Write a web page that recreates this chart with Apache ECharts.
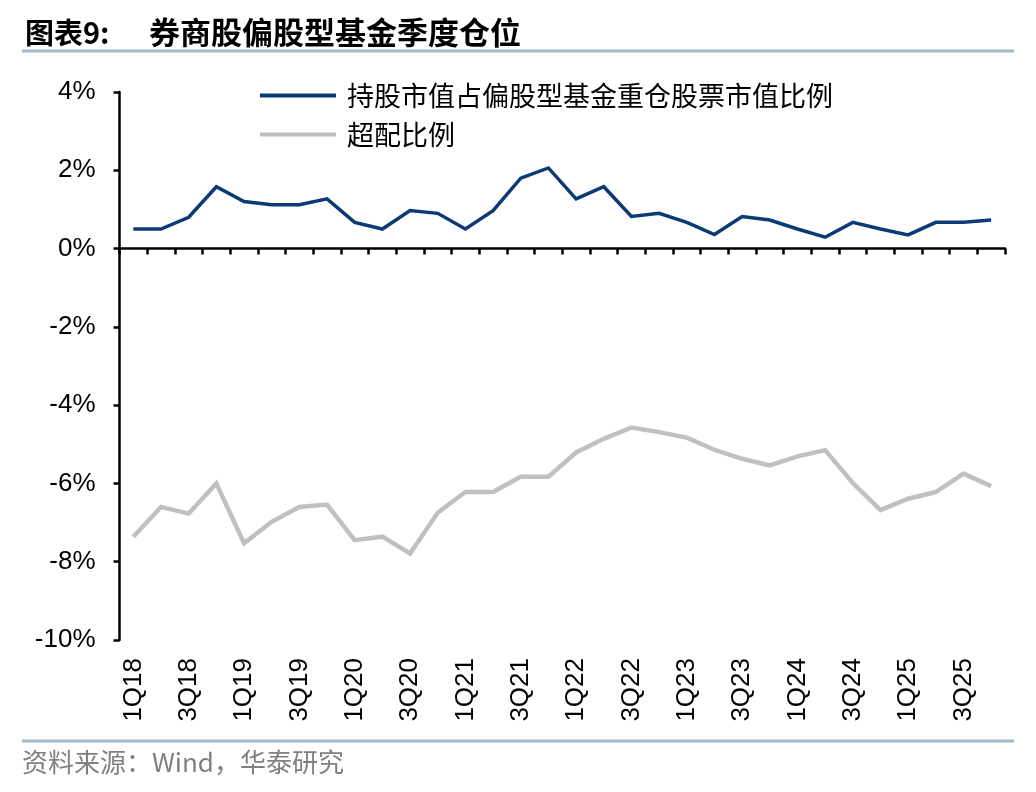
<!DOCTYPE html>
<html><head><meta charset="utf-8">
<script src="https://cdn.jsdelivr.net/npm/echarts@6/dist/echarts.min.js"></script>
<style>html,body{margin:0;padding:0;background:#fff}#c{width:1036px;height:792px}</style>
</head><body><div id="c"></div>
<script>
var categories = ['1Q18','2Q18','3Q18','4Q18','1Q19','2Q19','3Q19','4Q19','1Q20','2Q20','3Q20','4Q20','1Q21','2Q21','3Q21','4Q21','1Q22','2Q22','3Q22','4Q22','1Q23','2Q23','3Q23','4Q23','1Q24','2Q24','3Q24','4Q24','1Q25','2Q25','3Q25','4Q25'];
var holdRatio = [0.50,0.50,0.80,1.58,1.20,1.12,1.12,1.27,0.67,0.50,0.97,0.90,0.50,0.97,1.80,2.06,1.27,1.58,0.82,0.90,0.67,0.36,0.82,0.73,0.50,0.29,0.67,0.50,0.35,0.67,0.67,0.73];
var overRatio = [-7.36,-6.60,-6.77,-6.00,-7.53,-6.98,-6.60,-6.54,-7.45,-7.36,-7.79,-6.75,-6.22,-6.22,-5.83,-5.83,-5.21,-4.86,-4.57,-4.69,-4.83,-5.14,-5.37,-5.54,-5.31,-5.15,-5.99,-6.68,-6.39,-6.22,-5.75,-6.07];
var seriesNames = ['持股市值占偏股型基金重仓股票市值比例','超配比例'];
var titleLabel = '图表9:';
var titleText = '券商股偏股型基金季度仓位';
var sourceText = '资料来源：Wind，华泰研究';

var chart = echarts.init(document.getElementById('c'), null, {renderer:'canvas'});
var cjk = '"Noto Sans CJK SC", "Noto Sans", sans-serif';
var latin = '"Liberation Sans", Arial, sans-serif';
chart.setOption({
  animation:false,
  backgroundColor:'#fff',
  title:[
    {text:titleLabel,left:20,top:13,textStyle:{fontFamily:cjk,fontSize:29,fontWeight:'bold',color:'#000'}},
    {text:titleText,left:144,top:12,textStyle:{fontFamily:cjk,fontSize:31,fontWeight:'bold',color:'#000'}}
  ],
  graphic:[
    {type:'line',shape:{x1:22,y1:51,x2:1014,y2:51},style:{stroke:'#a7b9cd',lineWidth:3}},
    {type:'line',shape:{x1:22,y1:741,x2:1014,y2:741},style:{stroke:'#a7b9cd',lineWidth:3}},
    {type:'text',left:22,top:749,style:{text:sourceText,fontFamily:cjk,fontSize:26,fill:'#808080'}}
  ],
  legend:{orient:'vertical',left:255,top:77,itemWidth:76,itemHeight:4,itemGap:12,icon:'rect',
    textStyle:{fontFamily:cjk,fontSize:27,color:'#000',padding:[0,0,0,6]},data:seriesNames},
  grid:{left:119.5,right:31,top:92,bottom:152,containLabel:false},
  xAxis:[
    {type:'category',data:categories,boundaryGap:true,
      axisLine:{onZero:true,lineStyle:{color:'#000',width:2.5}},
      axisTick:{show:true,alignWithLabel:false,interval:0,length:6,lineStyle:{color:'#000',width:2.5}},
      axisLabel:{show:false}},
    {type:'category',data:categories,boundaryGap:true,position:'bottom',
      axisLine:{show:false},axisTick:{show:false},
      axisLabel:{show:true,interval:1,rotate:90,margin:18,fontFamily:latin,fontSize:26,color:'#000'}}
  ],
  yAxis:{type:'value',min:-10,max:4,interval:2,
    axisLine:{show:true,lineStyle:{color:'#000',width:2.5}},
    axisTick:{show:true,length:6,lineStyle:{color:'#000',width:2.5}},
    splitLine:{show:false},
    axisLabel:{formatter:'{value}%',margin:24,fontFamily:latin,fontSize:26,color:'#000'}},
  series:[
    {name:seriesNames[0],type:'line',xAxisIndex:0,data:holdRatio,symbol:'none',
      lineStyle:{color:'#0b3a75',width:3.5,join:'miter'},itemStyle:{color:'#0b3a75'}},
    {name:seriesNames[1],type:'line',xAxisIndex:0,data:overRatio,symbol:'none',
      lineStyle:{color:'#c0c0c0',width:4.5,join:'miter'},itemStyle:{color:'#c0c0c0'}}
  ]
});
</script></body></html>
